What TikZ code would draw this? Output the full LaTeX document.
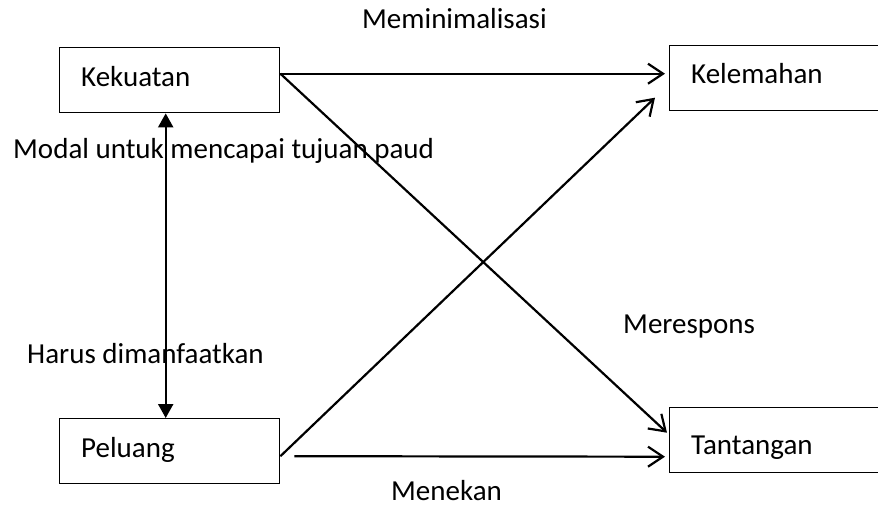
\documentclass[tikz,border=0pt]{standalone}
\usepackage{fontspec}
\setmainfont{Carlito}
\usetikzlibrary{arrows.meta}
\begin{document}
\begin{tikzpicture}[x=1pt,y=-1pt,
  box/.style={draw,line width=1.4pt,minimum width=220pt,minimum height=65pt,anchor=north west,inner sep=0pt},
  lbl/.style={font=\fontsize{29}{33}\selectfont,anchor=base west,inner sep=0pt},
  openarrow/.style={line width=2.2pt,-{Straight Barb[length=15pt,width=20pt,line width=2.2pt]}},
  bothways/.style={line width=2.2pt,{Triangle[length=14pt,width=15pt]}-{Triangle[length=14pt,width=15pt]}}]
\useasboundingbox (0,0) rectangle (878,511);
% the four boxes
\node[box] (kek) at (59,47) {};
\node[box,minimum width=212pt] (kel) at (669,45) {};
\node[box] (pel) at (59,418) {};
\node[box,minimum width=212pt] (tan) at (669,407) {};
% box captions
\node[lbl] (tkek) at (81,86) {Kekuatan};
\node[lbl] (tkel) at (691,83) {Kelemahan};
\node[lbl] (tpel) at (81,457) {Peluang};
\node[lbl] (ttan) at (691,454) {Tantangan};
% connector labels
\node[lbl] (lmin) at (362,29) {Meminimalisasi};
\node[lbl] (lmod) at (13,158) {Modal untuk mencapai tujuan paud};
\node[lbl] (lhar) at (27,363) {Harus dimanfaatkan};
\node[lbl] (lres) at (623,333) {Merespons};
\node[lbl] (lmen) at (391,500) {Menekan};
% connectors
\draw[openarrow] ([yshift=6.5pt]kek.east) -- ([xshift=-4pt,yshift=4.5pt]kel.west);
\draw[openarrow] ([yshift=6.5pt]kek.east) -- ([xshift=-2pt,yshift=7.5pt]tan.west);
\draw[openarrow] ([yshift=-5pt]pel.east) -- ([xshift=-14pt,yshift=-19.5pt]kel.west);
\draw[openarrow] ([xshift=14pt,yshift=-5pt]pel.east) -- ([xshift=-4pt,yshift=-16.5pt]tan.west);
\draw[bothways] ([xshift=-4pt]kek.south) -- ([xshift=-4pt]pel.north);
\end{tikzpicture}
\end{document}
